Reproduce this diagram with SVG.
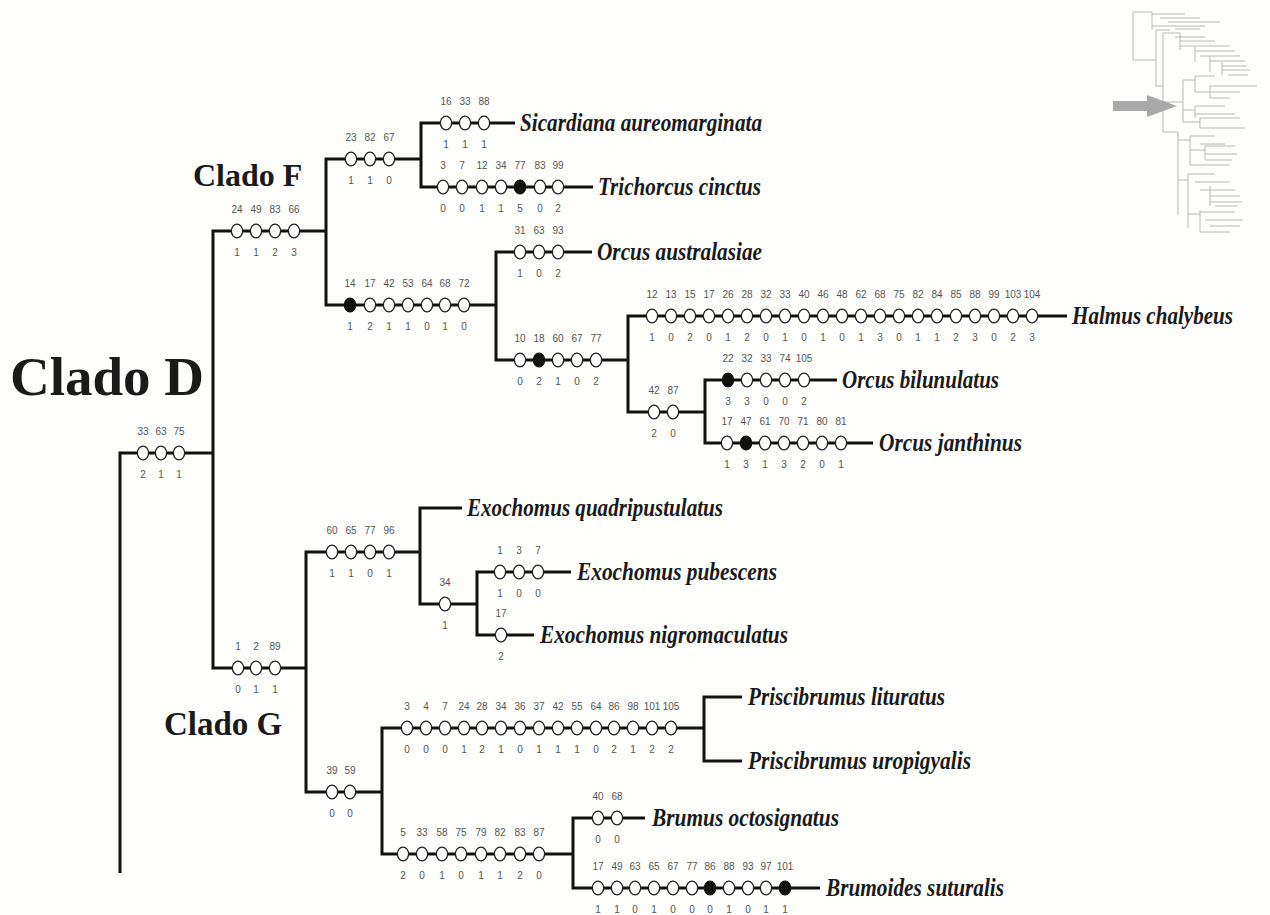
<svg xmlns="http://www.w3.org/2000/svg" xmlns:xlink="http://www.w3.org/1999/xlink" width="1270" height="915" viewBox="0 0 1270 915">
  <style>
    .br { fill: none; stroke: #111; stroke-width: 3; stroke-linejoin: miter; }
    .n { font-family: "Liberation Sans", Arial, sans-serif; font-size: 10px; fill: #555; text-anchor: middle; }
    .sp { font-family: "Liberation Serif", "Times New Roman", serif; font-weight: bold; font-style: italic; font-size: 26px; fill: #1a1a1a; }
    .cl { font-family: "Liberation Serif", "Times New Roman", serif; font-weight: bold; fill: #1a1a1a; }
    .mini { fill: none; stroke: #b8b8b8; stroke-width: 1; }
  </style>
  <defs>
    <!-- open state marker (homoplastic change) and filled marker (unique change) -->
    <ellipse id="o" rx="5.6" ry="6.9" fill="#fff" stroke="#222" stroke-width="1.3"/>
    <ellipse id="k" rx="5.6" ry="6.9" fill="#111" stroke="#111" stroke-width="1.3"/>
    <filter id="soft" x="-5%" y="-5%" width="110%" height="110%">
      <feGaussianBlur stdDeviation="0.6"/>
    </filter>
  </defs>

  <rect width="1270" height="915" fill="#fefefc"/>

  <!-- overview tree with locator arrow -->
  <g id="overview" filter="url(#soft)">
    <path class="mini" d="M1133 12 V60 H1156 M1133 12 H1152 M1152 12 V30 M1152 14 H1185 M1160 18 H1200 M1168 22 H1220 M1152 26 H1205 M1175 29 H1200
      M1156 30 V86 H1163 M1156 30 H1170
      M1163 33 V132 H1178 M1163 33 H1180 M1180 33 V50 M1175 37 H1205 M1180 41 H1215 M1180 46 H1230 M1195 46 V62 M1195 51 H1235 M1200 56 H1240 M1210 56 V72 M1210 61 H1245 M1222 66 H1247 M1222 62 V75 M1222 70 H1250 M1228 75 H1248
      M1163 102 H1180 M1183 80 V122 M1180 102 H1183 M1183 80 H1195 M1195 76 V92 M1195 76 H1215 M1195 92 H1210 M1210 86 V98 M1210 86 H1257 M1210 92 H1240 M1210 98 H1230
      M1183 110 H1195 M1195 106 V118 M1195 106 H1225 M1195 114 H1235 M1183 122 H1200 M1200 118 V128 M1200 118 H1240 M1200 128 H1245
      M1178 132 V215 M1178 140 H1190 M1190 136 V165 M1190 136 H1215 M1200 144 H1225 M1190 150 H1205 M1205 146 V160 M1205 146 H1235 M1205 154 H1237 M1205 160 H1232 M1190 165 H1230
      M1178 180 H1188 M1188 174 V228 M1188 174 H1215 M1195 182 H1230 M1200 190 H1235 M1210 186 V206 M1210 196 H1240 M1210 202 H1242 M1215 206 H1238 M1188 214 H1200 M1200 210 V232 M1200 212 H1235 M1205 220 H1243 M1210 226 H1240 M1200 232 H1230"/>
    <polygon points="1113,101 1147,101 1147,95 1177,106 1147,117 1147,111 1113,111" fill="#a9a9a9"/>
  </g>

  <!-- branch lines of the cladogram -->
  <g id="connectors">
    <path class="br" d="M120 873 V453 H213
      M326 231 H213 V668 H306
      M421 159 H326 V305 H496
      M515 123 H421 V187 H593
      M592 252 H496 V360 H628
      M1067 316 H628 V412 H705
      M837 380 H705 V443 H873
      M420 552 H306 V792 H382
      M462 508 H420 V604 H477
      M571 572 H477 V635 H534
      M704 728 H382 V854 H573
      M742 697 H704 V761 H742
      M645 818 H573 V888 H820"/>
  </g>

  <!-- clade titles -->
  <g id="clade-labels">
    <text class="cl" x="10" y="395" font-size="55">Clado D</text>
    <text class="cl" x="193" y="186" font-size="32">Clado F</text>
    <text class="cl" x="164" y="735" font-size="33">Clado G</text>
  </g>

  <!-- character changes along each branch: number above, state below -->
  <g id="br-cladeD">
    <use href="#o" x="143" y="453"/><use href="#o" x="161" y="453"/><use href="#o" x="179" y="453"/>
    <text class="n" x="143" y="435">33</text><text class="n" x="161" y="435">63</text><text class="n" x="179" y="435">75</text>
    <text class="n" x="143" y="478">2</text><text class="n" x="161" y="478">1</text><text class="n" x="179" y="478">1</text>
  </g>

  <g id="br-cladeF">
    <use href="#o" x="237" y="231"/><use href="#o" x="256" y="231"/><use href="#o" x="275" y="231"/><use href="#o" x="294" y="231"/>
    <text class="n" x="237" y="213">24</text><text class="n" x="256" y="213">49</text><text class="n" x="275" y="213">83</text><text class="n" x="294" y="213">66</text>
    <text class="n" x="237" y="256">1</text><text class="n" x="256" y="256">1</text><text class="n" x="275" y="256">2</text><text class="n" x="294" y="256">3</text>
  </g>

  <g id="br-sicardiana-trichorcus">
    <use href="#o" x="351" y="159"/><use href="#o" x="370" y="159"/><use href="#o" x="389" y="159"/>
    <text class="n" x="351" y="141">23</text><text class="n" x="370" y="141">82</text><text class="n" x="389" y="141">67</text>
    <text class="n" x="351" y="184">1</text><text class="n" x="370" y="184">1</text><text class="n" x="389" y="184">0</text>
  </g>

  <g id="tx-sicardiana">
    <use href="#o" x="446" y="123"/><use href="#o" x="465" y="123"/><use href="#o" x="484" y="123"/>
    <text class="n" x="446" y="105">16</text><text class="n" x="465" y="105">33</text><text class="n" x="484" y="105">88</text>
    <text class="n" x="446" y="148">1</text><text class="n" x="465" y="148">1</text><text class="n" x="484" y="148">1</text>
    <text class="sp" x="520" y="131" textLength="242" lengthAdjust="spacingAndGlyphs">Sicardiana aureomarginata</text>
  </g>

  <g id="tx-trichorcus">
    <use href="#o" x="443" y="187"/><use href="#o" x="462" y="187"/><use href="#o" x="482" y="187"/><use href="#o" x="501" y="187"/><use href="#k" x="520" y="187"/><use href="#o" x="540" y="187"/><use href="#o" x="558" y="187"/>
    <text class="n" x="443" y="169">3</text><text class="n" x="462" y="169">7</text><text class="n" x="482" y="169">12</text><text class="n" x="501" y="169">34</text><text class="n" x="520" y="169">77</text><text class="n" x="540" y="169">83</text><text class="n" x="558" y="169">99</text>
    <text class="n" x="443" y="212">0</text><text class="n" x="462" y="212">0</text><text class="n" x="482" y="212">1</text><text class="n" x="501" y="212">1</text><text class="n" x="520" y="212">5</text><text class="n" x="540" y="212">0</text><text class="n" x="558" y="212">2</text>
    <text class="sp" x="598" y="195" textLength="163" lengthAdjust="spacingAndGlyphs">Trichorcus cinctus</text>
  </g>

  <g id="br-orcus-halmus">
    <use href="#k" x="350" y="305"/><use href="#o" x="370" y="305"/><use href="#o" x="389" y="305"/><use href="#o" x="408" y="305"/><use href="#o" x="427" y="305"/><use href="#o" x="445" y="305"/><use href="#o" x="464" y="305"/>
    <text class="n" x="350" y="287">14</text><text class="n" x="370" y="287">17</text><text class="n" x="389" y="287">42</text><text class="n" x="408" y="287">53</text><text class="n" x="427" y="287">64</text><text class="n" x="445" y="287">68</text><text class="n" x="464" y="287">72</text>
    <text class="n" x="350" y="330">1</text><text class="n" x="370" y="330">2</text><text class="n" x="389" y="330">1</text><text class="n" x="408" y="330">1</text><text class="n" x="427" y="330">0</text><text class="n" x="445" y="330">1</text><text class="n" x="464" y="330">0</text>
  </g>

  <g id="tx-orcus-australasiae">
    <use href="#o" x="520" y="252"/><use href="#o" x="539" y="252"/><use href="#o" x="558" y="252"/>
    <text class="n" x="520" y="234">31</text><text class="n" x="539" y="234">63</text><text class="n" x="558" y="234">93</text>
    <text class="n" x="520" y="277">1</text><text class="n" x="539" y="277">0</text><text class="n" x="558" y="277">2</text>
    <text class="sp" x="597" y="260" textLength="165" lengthAdjust="spacingAndGlyphs">Orcus australasiae</text>
  </g>

  <g id="br-halmus-orcus">
    <use href="#o" x="520" y="360"/><use href="#k" x="539" y="360"/><use href="#o" x="558" y="360"/><use href="#o" x="577" y="360"/><use href="#o" x="596" y="360"/>
    <text class="n" x="520" y="342">10</text><text class="n" x="539" y="342">18</text><text class="n" x="558" y="342">60</text><text class="n" x="577" y="342">67</text><text class="n" x="596" y="342">77</text>
    <text class="n" x="520" y="385">0</text><text class="n" x="539" y="385">2</text><text class="n" x="558" y="385">1</text><text class="n" x="577" y="385">0</text><text class="n" x="596" y="385">2</text>
  </g>

  <g id="tx-halmus">
    <use href="#o" x="652" y="316"/><use href="#o" x="671" y="316"/><use href="#o" x="690" y="316"/><use href="#o" x="709" y="316"/><use href="#o" x="728" y="316"/><use href="#o" x="747" y="316"/><use href="#o" x="766" y="316"/><use href="#o" x="785" y="316"/><use href="#o" x="804" y="316"/><use href="#o" x="823" y="316"/><use href="#o" x="842" y="316"/><use href="#o" x="861" y="316"/><use href="#o" x="880" y="316"/><use href="#o" x="899" y="316"/><use href="#o" x="918" y="316"/><use href="#o" x="937" y="316"/><use href="#o" x="956" y="316"/><use href="#o" x="975" y="316"/><use href="#o" x="994" y="316"/><use href="#o" x="1013" y="316"/><use href="#o" x="1032" y="316"/>
    <text class="n" x="652" y="298">12</text><text class="n" x="671" y="298">13</text><text class="n" x="690" y="298">15</text><text class="n" x="709" y="298">17</text><text class="n" x="728" y="298">26</text><text class="n" x="747" y="298">28</text><text class="n" x="766" y="298">32</text><text class="n" x="785" y="298">33</text><text class="n" x="804" y="298">40</text><text class="n" x="823" y="298">46</text><text class="n" x="842" y="298">48</text><text class="n" x="861" y="298">62</text><text class="n" x="880" y="298">68</text><text class="n" x="899" y="298">75</text><text class="n" x="918" y="298">82</text><text class="n" x="937" y="298">84</text><text class="n" x="956" y="298">85</text><text class="n" x="975" y="298">88</text><text class="n" x="994" y="298">99</text><text class="n" x="1013" y="298">103</text><text class="n" x="1032" y="298">104</text>
    <text class="n" x="652" y="341">1</text><text class="n" x="671" y="341">0</text><text class="n" x="690" y="341">2</text><text class="n" x="709" y="341">0</text><text class="n" x="728" y="341">1</text><text class="n" x="747" y="341">2</text><text class="n" x="766" y="341">0</text><text class="n" x="785" y="341">1</text><text class="n" x="804" y="341">0</text><text class="n" x="823" y="341">1</text><text class="n" x="842" y="341">0</text><text class="n" x="861" y="341">1</text><text class="n" x="880" y="341">3</text><text class="n" x="899" y="341">0</text><text class="n" x="918" y="341">1</text><text class="n" x="937" y="341">1</text><text class="n" x="956" y="341">2</text><text class="n" x="975" y="341">3</text><text class="n" x="994" y="341">0</text><text class="n" x="1013" y="341">2</text><text class="n" x="1032" y="341">3</text>
    <text class="sp" x="1072" y="324" textLength="161" lengthAdjust="spacingAndGlyphs">Halmus chalybeus</text>
  </g>

  <g id="br-orcus-pair">
    <use href="#o" x="654" y="412"/><use href="#o" x="673" y="412"/>
    <text class="n" x="654" y="394">42</text><text class="n" x="673" y="394">87</text>
    <text class="n" x="654" y="437">2</text><text class="n" x="673" y="437">0</text>
  </g>

  <g id="tx-orcus-bilunulatus">
    <use href="#k" x="728" y="380"/><use href="#o" x="747" y="380"/><use href="#o" x="766" y="380"/><use href="#o" x="785" y="380"/><use href="#o" x="804" y="380"/>
    <text class="n" x="728" y="362">22</text><text class="n" x="747" y="362">32</text><text class="n" x="766" y="362">33</text><text class="n" x="785" y="362">74</text><text class="n" x="804" y="362">105</text>
    <text class="n" x="728" y="405">3</text><text class="n" x="747" y="405">3</text><text class="n" x="766" y="405">0</text><text class="n" x="785" y="405">0</text><text class="n" x="804" y="405">2</text>
    <text class="sp" x="842" y="388" textLength="157" lengthAdjust="spacingAndGlyphs">Orcus bilunulatus</text>
  </g>

  <g id="tx-orcus-janthinus">
    <use href="#o" x="727" y="443"/><use href="#k" x="746" y="443"/><use href="#o" x="765" y="443"/><use href="#o" x="784" y="443"/><use href="#o" x="803" y="443"/><use href="#o" x="822" y="443"/><use href="#o" x="841" y="443"/>
    <text class="n" x="727" y="425">17</text><text class="n" x="746" y="425">47</text><text class="n" x="765" y="425">61</text><text class="n" x="784" y="425">70</text><text class="n" x="803" y="425">71</text><text class="n" x="822" y="425">80</text><text class="n" x="841" y="425">81</text>
    <text class="n" x="727" y="468">1</text><text class="n" x="746" y="468">3</text><text class="n" x="765" y="468">1</text><text class="n" x="784" y="468">3</text><text class="n" x="803" y="468">2</text><text class="n" x="822" y="468">0</text><text class="n" x="841" y="468">1</text>
    <text class="sp" x="879" y="451" textLength="143" lengthAdjust="spacingAndGlyphs">Orcus janthinus</text>
  </g>

  <g id="br-cladeG">
    <use href="#o" x="238" y="668"/><use href="#o" x="256" y="668"/><use href="#o" x="275" y="668"/>
    <text class="n" x="238" y="650">1</text><text class="n" x="256" y="650">2</text><text class="n" x="275" y="650">89</text>
    <text class="n" x="238" y="693">0</text><text class="n" x="256" y="693">1</text><text class="n" x="275" y="693">1</text>
  </g>

  <g id="br-exochomus">
    <use href="#o" x="332" y="552"/><use href="#o" x="351" y="552"/><use href="#o" x="370" y="552"/><use href="#o" x="389" y="552"/>
    <text class="n" x="332" y="534">60</text><text class="n" x="351" y="534">65</text><text class="n" x="370" y="534">77</text><text class="n" x="389" y="534">96</text>
    <text class="n" x="332" y="577">1</text><text class="n" x="351" y="577">1</text><text class="n" x="370" y="577">0</text><text class="n" x="389" y="577">1</text>
  </g>

  <g id="tx-exochomus-quadripustulatus">
    <text class="sp" x="467" y="516" textLength="256" lengthAdjust="spacingAndGlyphs">Exochomus quadripustulatus</text>
  </g>

  <g id="br-exochomus-pair">
    <use href="#o" x="445" y="604"/>
    <text class="n" x="445" y="586">34</text>
    <text class="n" x="445" y="629">1</text>
  </g>

  <g id="tx-exochomus-pubescens">
    <use href="#o" x="500" y="572"/><use href="#o" x="519" y="572"/><use href="#o" x="538" y="572"/>
    <text class="n" x="500" y="554">1</text><text class="n" x="519" y="554">3</text><text class="n" x="538" y="554">7</text>
    <text class="n" x="500" y="597">1</text><text class="n" x="519" y="597">0</text><text class="n" x="538" y="597">0</text>
    <text class="sp" x="577" y="580" textLength="200" lengthAdjust="spacingAndGlyphs">Exochomus pubescens</text>
  </g>

  <g id="tx-exochomus-nigromaculatus">
    <use href="#o" x="501" y="635"/>
    <text class="n" x="501" y="617">17</text>
    <text class="n" x="501" y="660">2</text>
    <text class="sp" x="540" y="643" textLength="248" lengthAdjust="spacingAndGlyphs">Exochomus nigromaculatus</text>
  </g>

  <g id="br-priscibrumus-brumus">
    <use href="#o" x="332" y="792"/><use href="#o" x="350" y="792"/>
    <text class="n" x="332" y="774">39</text><text class="n" x="350" y="774">59</text>
    <text class="n" x="332" y="817">0</text><text class="n" x="350" y="817">0</text>
  </g>

  <g id="br-priscibrumus">
    <use href="#o" x="407" y="728"/><use href="#o" x="426" y="728"/><use href="#o" x="445" y="728"/><use href="#o" x="464" y="728"/><use href="#o" x="482" y="728"/><use href="#o" x="501" y="728"/><use href="#o" x="520" y="728"/><use href="#o" x="539" y="728"/><use href="#o" x="558" y="728"/><use href="#o" x="577" y="728"/><use href="#o" x="596" y="728"/><use href="#o" x="614" y="728"/><use href="#o" x="633" y="728"/><use href="#o" x="652" y="728"/><use href="#o" x="671" y="728"/>
    <text class="n" x="407" y="710">3</text><text class="n" x="426" y="710">4</text><text class="n" x="445" y="710">7</text><text class="n" x="464" y="710">24</text><text class="n" x="482" y="710">28</text><text class="n" x="501" y="710">34</text><text class="n" x="520" y="710">36</text><text class="n" x="539" y="710">37</text><text class="n" x="558" y="710">42</text><text class="n" x="577" y="710">55</text><text class="n" x="596" y="710">64</text><text class="n" x="614" y="710">86</text><text class="n" x="633" y="710">98</text><text class="n" x="652" y="710">101</text><text class="n" x="671" y="710">105</text>
    <text class="n" x="407" y="753">0</text><text class="n" x="426" y="753">0</text><text class="n" x="445" y="753">0</text><text class="n" x="464" y="753">1</text><text class="n" x="482" y="753">2</text><text class="n" x="501" y="753">1</text><text class="n" x="520" y="753">0</text><text class="n" x="539" y="753">1</text><text class="n" x="558" y="753">1</text><text class="n" x="577" y="753">1</text><text class="n" x="596" y="753">0</text><text class="n" x="614" y="753">2</text><text class="n" x="633" y="753">1</text><text class="n" x="652" y="753">2</text><text class="n" x="671" y="753">2</text>
  </g>

  <g id="tx-priscibrumus-lituratus">
    <text class="sp" x="748" y="705" textLength="197" lengthAdjust="spacingAndGlyphs">Priscibrumus lituratus</text>
  </g>

  <g id="tx-priscibrumus-uropigyalis">
    <text class="sp" x="748" y="769" textLength="223" lengthAdjust="spacingAndGlyphs">Priscibrumus uropigyalis</text>
  </g>

  <g id="br-brumus">
    <use href="#o" x="403" y="854"/><use href="#o" x="422" y="854"/><use href="#o" x="442" y="854"/><use href="#o" x="461" y="854"/><use href="#o" x="481" y="854"/><use href="#o" x="500" y="854"/><use href="#o" x="520" y="854"/><use href="#o" x="539" y="854"/>
    <text class="n" x="403" y="836">5</text><text class="n" x="422" y="836">33</text><text class="n" x="442" y="836">58</text><text class="n" x="461" y="836">75</text><text class="n" x="481" y="836">79</text><text class="n" x="500" y="836">82</text><text class="n" x="520" y="836">83</text><text class="n" x="539" y="836">87</text>
    <text class="n" x="403" y="879">2</text><text class="n" x="422" y="879">0</text><text class="n" x="442" y="879">1</text><text class="n" x="461" y="879">0</text><text class="n" x="481" y="879">1</text><text class="n" x="500" y="879">1</text><text class="n" x="520" y="879">2</text><text class="n" x="539" y="879">0</text>
  </g>

  <g id="tx-brumus-octosignatus">
    <use href="#o" x="598" y="818"/><use href="#o" x="617" y="818"/>
    <text class="n" x="598" y="800">40</text><text class="n" x="617" y="800">68</text>
    <text class="n" x="598" y="843">0</text><text class="n" x="617" y="843">0</text>
    <text class="sp" x="652" y="826" textLength="187" lengthAdjust="spacingAndGlyphs">Brumus octosignatus</text>
  </g>

  <g id="tx-brumoides-suturalis">
    <use href="#o" x="598" y="888"/><use href="#o" x="617" y="888"/><use href="#o" x="635" y="888"/><use href="#o" x="654" y="888"/><use href="#o" x="673" y="888"/><use href="#o" x="692" y="888"/><use href="#k" x="710" y="888"/><use href="#o" x="729" y="888"/><use href="#o" x="748" y="888"/><use href="#o" x="766" y="888"/><use href="#k" x="785" y="888"/>
    <text class="n" x="598" y="870">17</text><text class="n" x="617" y="870">49</text><text class="n" x="635" y="870">63</text><text class="n" x="654" y="870">65</text><text class="n" x="673" y="870">67</text><text class="n" x="692" y="870">77</text><text class="n" x="710" y="870">86</text><text class="n" x="729" y="870">88</text><text class="n" x="748" y="870">93</text><text class="n" x="766" y="870">97</text><text class="n" x="785" y="870">101</text>
    <text class="n" x="598" y="913">1</text><text class="n" x="617" y="913">1</text><text class="n" x="635" y="913">0</text><text class="n" x="654" y="913">1</text><text class="n" x="673" y="913">0</text><text class="n" x="692" y="913">0</text><text class="n" x="710" y="913">0</text><text class="n" x="729" y="913">1</text><text class="n" x="748" y="913">0</text><text class="n" x="766" y="913">1</text><text class="n" x="785" y="913">1</text>
    <text class="sp" x="826" y="896" textLength="178" lengthAdjust="spacingAndGlyphs">Brumoides suturalis</text>
  </g>
</svg>
